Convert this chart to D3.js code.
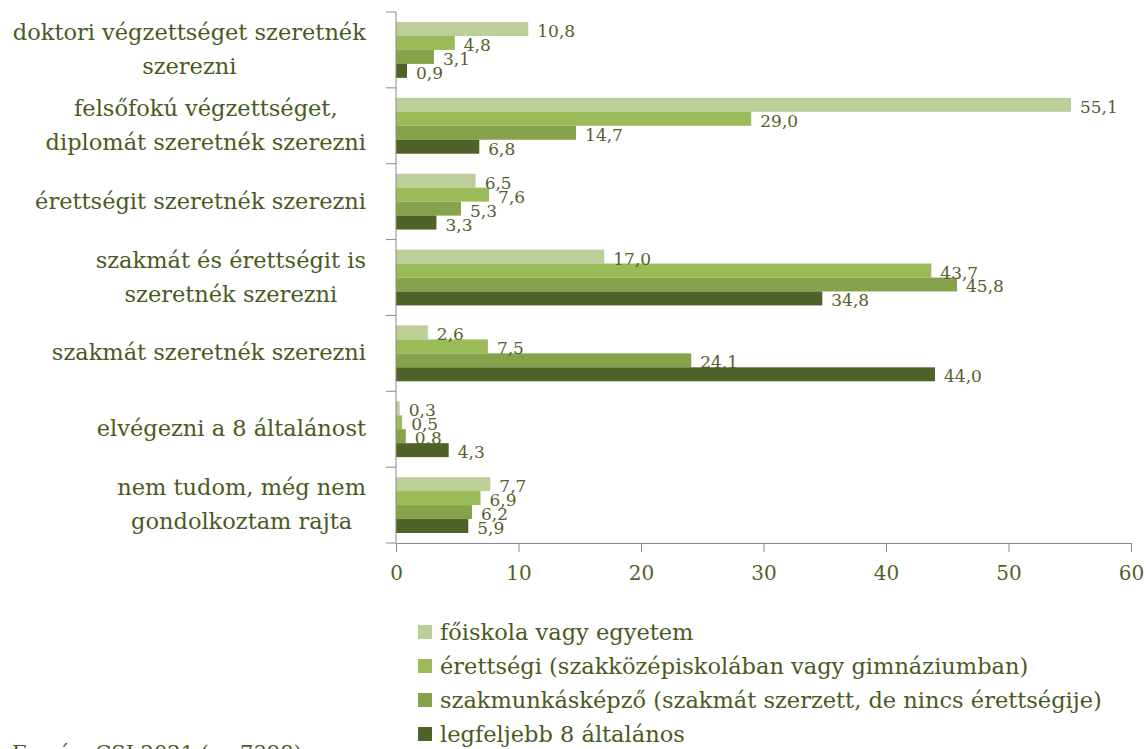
<!DOCTYPE html>
<html>
  <head>
    <meta charset="utf-8">
    <title>Továbbtanulási tervek</title>
    <script src="https://cdn.jsdelivr.net/npm/d3@7"></script>
    <style>
      body { margin: 0; background: #fff; }
      svg { display: block; font-family: "DejaVu Serif", serif; }
      .axis path, .axis line { stroke: #8a8a8a; }
      .axis text { fill: #4f6228; font-size: 20px; font-family: "DejaVu Serif", serif; }
      .catLabel { fill: #4a5a22; font-size: 22.5px; }
      .valLabel { fill: #55602c; font-size: 17px; }
      .legend text { fill: #4a5a22; font-size: 22.5px; }
    </style>
  </head>

  <body>
    <svg id="chart" width="1147" height="749">
      <g id="barGroup"></g>
      <g id="labelGroup"></g>
      <g id="yAxisGroup" class="axis"></g>
      <g id="xAxisGroup" class="axis"></g>
      <g id="legend" class="legend"></g>
      <text id="source"></text>
    </svg>

    <script>
      // data
      categories = [
        ["doktori végzettséget szeretnék", "szerezni"],
        ["felsőfokú végzettséget,", "diplomát szeretnék szerezni"],
        ["érettségit szeretnék szerezni"],
        ["szakmát és érettségit is", "szeretnék szerezni"],
        ["szakmát szeretnék szerezni"],
        ["elvégezni a 8 általánost"],
        ["nem tudom, még nem", "gondolkoztam rajta"]
      ];
      seriesNames = [
        "főiskola vagy egyetem",
        "érettségi (szakközépiskolában vagy gimnáziumban)",
        "szakmunkásképző (szakmát szerzett, de nincs érettségije)",
        "legfeljebb 8 általános"
      ];
      foiskola = [10.8, 55.1, 6.5, 17.0, 2.6, 0.3, 7.7];
      erettsegi = [4.8, 29.0, 7.6, 43.7, 7.5, 0.5, 6.9];
      szakmunkas = [3.1, 14.7, 5.3, 45.8, 24.1, 0.8, 6.2];
      altalanos = [0.9, 6.8, 3.3, 34.8, 44.0, 4.3, 5.9];
      xTicks = [0, 10, 20, 30, 40, 50, 60];
      colours = ["#bccf98", "#9bbb59", "#86a24a", "#4f6228"];
      sourceText = "Forrás: CSI 2021 (n=7398)";

      seriesValues = [foiskola, erettsegi, szakmunkas, altalanos];

      // page elements
      chart = d3.select("#chart");
      barGroup = d3.select("#barGroup");
      labelGroup = d3.select("#labelGroup");
      yAxisGroup = d3.select("#yAxisGroup");
      xAxisGroup = d3.select("#xAxisGroup");
      legend = d3.select("#legend");

      margin = { top: 12, left: 396, right: 1131, bottom: 543 };
      comma = function(v) { return d3.format(".1f")(v).replace(".", ","); };

      // scales
      x = d3.scaleLinear()
        .domain([0, 60])
        .range([margin.left, margin.right]);
      y0 = d3.scaleBand()
        .domain(d3.range(categories.length))
        .range([margin.top, margin.bottom]);
      y1 = d3.scaleBand()
        .domain(d3.range(seriesNames.length))
        .range([10, y0.bandwidth() - 10]);

      // bars
      groups = barGroup.selectAll(".group")
          .data(categories)
        .enter().append("g")
          .attr("class", "group")
          .attr("transform", function(d, i) {
            return "translate(0, " + y0(i) + ")";
          });
      groups.selectAll("rect")
          .data(function(d, i) {
            return seriesValues.map(function(s, k) {
              return { k: k, v: s[i] };
            });
          })
        .enter().append("rect")
          .attr("x", x(0))
          .attr("y", function(d) { return y1(d.k); })
          .attr("width", function(d) { return x(d.v) - x(0); })
          .attr("height", y1.bandwidth())
          .attr("fill", function(d) { return colours[d.k]; });
      groups.selectAll(".valLabel")
          .data(function(d, i) {
            return seriesValues.map(function(s, k) {
              return { k: k, v: s[i] };
            });
          })
        .enter().append("text")
          .attr("class", "valLabel")
          .attr("x", function(d) { return x(d.v) + 9; })
          .attr("y", function(d) { return y1(d.k) + y1.bandwidth() / 2 + 2; })
          .attr("dominant-baseline", "central")
          .text(function(d) { return comma(d.v); });

      // category labels, block centred and right edge at 366
      categories.forEach(function(lines, i) {
        var g = labelGroup.append("g");
        var lh = 34;
        var t = g.append("text")
          .attr("class", "catLabel")
          .attr("text-anchor", "middle");
        lines.forEach(function(line, j) {
          t.append("tspan")
            .attr("x", 0)
            .attr("y", (j - (lines.length - 1) / 2) * lh)
            .attr("dominant-baseline", "central")
            .text(line);
        });
        var w = t.node().getBBox().width;
        g.attr("transform", "translate(" + (366 - w / 2) + ", " + (y0(i) + y0.bandwidth() / 2 - 1) + ")");
      });

      // axes
      yAxis = d3.axisLeft(y0)
        .tickValues([])
        .tickSizeOuter(0);
      yAxisGroup.attr("transform", "translate(" + margin.left + ", 0)")
        .call(yAxis);
      yAxisGroup.select(".domain").attr("d", "M0," + margin.top + "V" + margin.bottom);
      yAxisGroup.selectAll(".sep")
          .data(d3.range(categories.length + 1))
        .enter().append("line")
          .attr("class", "sep")
          .attr("x1", -10)
          .attr("x2", 0)
          .attr("y1", function(d) { return margin.top + d * y0.step(); })
          .attr("y2", function(d) { return margin.top + d * y0.step(); });

      xAxis = d3.axisBottom(x)
        .tickValues(xTicks)
        .tickSize(9)
        .tickSizeOuter(0)
        .tickPadding(14)
        .tickFormat(d3.format("d"));
      xAxisGroup.attr("transform", "translate(0, " + margin.bottom + ")")
        .call(xAxis);

      // legend
      items = legend.selectAll(".item")
          .data(seriesNames)
        .enter().append("g")
          .attr("class", "item")
          .attr("transform", function(d, i) {
            return "translate(418, " + (632 + i * 34) + ")";
          });
      items.append("rect")
        .attr("x", 0)
        .attr("y", -7)
        .attr("width", 14)
        .attr("height", 14)
        .attr("fill", function(d, i) { return colours[i]; });
      items.append("text")
        .attr("x", 22)
        .attr("y", 0)
        .attr("dominant-baseline", "central")
        .text(function(d) { return d; });

      // source
      d3.select("#source")
        .attr("x", 12)
        .attr("y", 760)
        .attr("fill", "#4a5a22")
        .style("font-size", "21px")
        .text(sourceText);
    </script>
  </body>
</html>
